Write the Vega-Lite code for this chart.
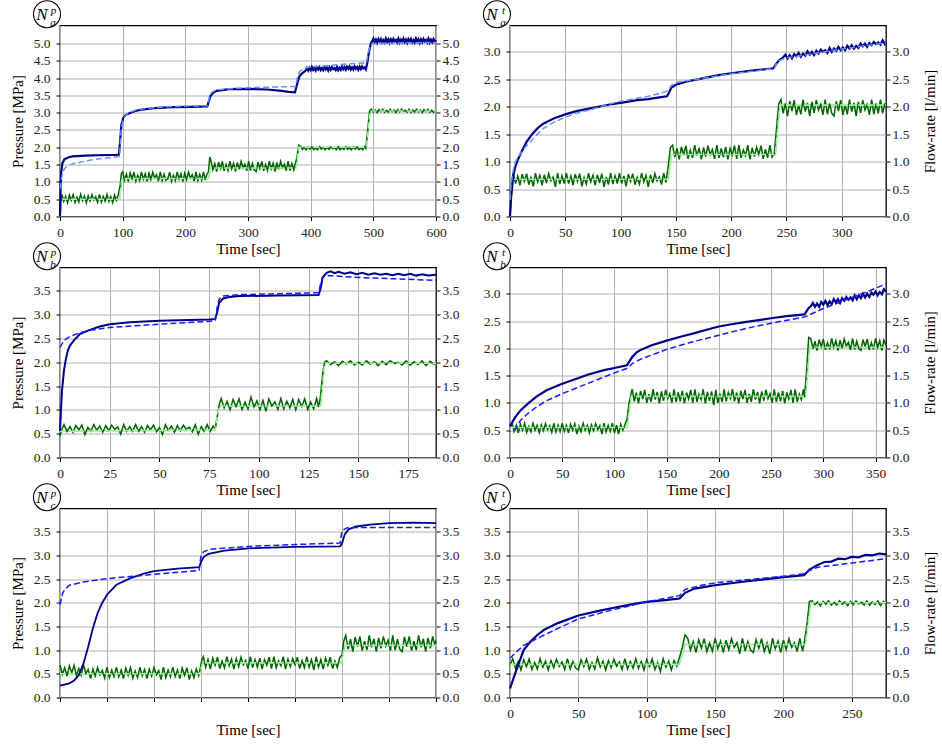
{
"$schema": "https://vega.github.io/schema/vega-lite/v6.json",
"padding": {"left": 9, "top": -2.5, "right": 0, "bottom": 0},
"bounds": "flush",
"columns": 2,
"spacing": {"row": 51, "column": 74},
"config": {
  "font": "Liberation Serif",
  "view": {"stroke": "#000", "strokeWidth": 1.3},
  "axis": {"labelFont": "Liberation Serif", "labelFontSize": 13.5, "labelColor": "#222", "titleFont": "Liberation Serif", "titleFontSize": 15, "titleFontWeight": "normal", "titleColor": "#000", "domain": false, "tickColor": "#000", "tickSize": 4, "gridColor": "#b0b0b0", "gridWidth": 1, "labelFlush": false, "labelOverlap": false, "labelPadding": 4},
  "line": {"strokeCap": "butt"},
  "text": {"font": "Liberation Serif"}
},
"concat": [
{
 "width": 376, "height": 191,
 "resolve": {"scale": {"y": "independent"}},
 "layer": [
  {"encoding": {
    "x": {"field": "t", "type": "quantitative", "scale": {"domain": [0, 600], "nice": false, "zero": false}, "axis": {"values": [0,100,200,300,400,500,600], "title": "Time [sec]", "grid": true, "titlePadding": 2, "labelPadding": 5}},
    "y": {"field": "v", "type": "quantitative", "scale": {"domain": [0, 5.52], "nice": false}, "axis": {"orient": "left", "values": [0,0.5,1,1.5,2,2.5,3,3.5,4,4.5,5], "format": ".1f", "title": "Pressure [MPa]", "grid": true, "labelPadding": 6, "titlePadding": 8}}},
   "layer": [
    {"data": {"name": "ap_fd"}, "mark": {"type": "line", "color": "#90ee90", "strokeWidth": 1.5}},
    {"data": {"name": "ap_fm"}, "mark": {"type": "line", "color": "#006400", "strokeWidth": 1.5}},
    {"data": {"name": "ap_fd"}, "mark": {"type": "line", "color": "#a8f0a8", "strokeWidth": 1.6, "strokeDash": [6, 3]}}
   ]},
  {"encoding": {
    "x": {"field": "t", "type": "quantitative", "scale": {"domain": [0, 600], "nice": false, "zero": false}},
    "y": {"field": "v", "type": "quantitative", "scale": {"domain": [0, 5.52], "nice": false}, "axis": {"orient": "right", "values": [0,0.5,1,1.5,2,2.5,3,3.5,4,4.5,5], "format": ".1f", "title": null, "grid": false, "labelPadding": 2}}},
   "layer": [
    {"data": {"name": "ap_pm"}, "mark": {"type": "line", "color": "#00008b", "strokeWidth": 2.2}},
    {"data": {"name": "ap_pd"}, "mark": {"type": "line", "color": "#6495ed", "strokeWidth": 1.5, "strokeDash": [6, 3]}}
   ]},
  {"encoding": {
    "x": {"datum": 0, "type": "quantitative", "scale": {"domain": [0, 600], "nice": false, "zero": false}},
    "y": {"datum": 5.52, "type": "quantitative", "scale": {"domain": [0, 5.52], "nice": false}, "axis": null}},
   "layer": [
    {"data": {"values": [{"s": "o"}]}, "mark": {"type": "point", "shape": "M-1.048,-0.447A0.534,0.534,0,1,1,0.02,-0.447A0.534,0.534,0,1,1,-1.048,-0.447Z", "size": 2560, "filled": false, "stroke": "#000", "strokeWidth": 1.1, "opacity": 1}},
    {"data": {"values": [{"s": "N"}]}, "mark": {"type": "text", "dx": -18, "dy": -11, "fontSize": 17, "fontStyle": "italic", "color": "#000"}, "encoding": {"text": {"field": "s"}}},
    {"data": {"values": [{"s": "p"}]}, "mark": {"type": "text", "dx": -6.5, "dy": -14.5, "fontSize": 11, "fontStyle": "italic", "color": "#000"}, "encoding": {"text": {"field": "s"}}},
    {"data": {"values": [{"s": "a"}]}, "mark": {"type": "text", "dx": -7, "dy": -3, "fontSize": 11, "fontStyle": "italic", "color": "#000"}, "encoding": {"text": {"field": "s"}}}
   ]}
 ]
},
{
 "width": 376, "height": 191,
 "resolve": {"scale": {"y": "independent"}},
 "layer": [
  {"encoding": {
    "x": {"field": "t", "type": "quantitative", "scale": {"domain": [0, 340], "nice": false, "zero": false}, "axis": {"values": [0,50,100,150,200,250,300], "title": "Time [sec]", "grid": true, "titlePadding": 2, "labelPadding": 5}},
    "y": {"field": "v", "type": "quantitative", "scale": {"domain": [0, 3.48], "nice": false}, "axis": {"orient": "left", "values": [0,0.5,1,1.5,2,2.5,3], "format": ".1f", "title": null, "grid": true, "labelPadding": 6}}},
   "layer": [
    {"data": {"name": "at_fd"}, "mark": {"type": "line", "color": "#90ee90", "strokeWidth": 1.5}},
    {"data": {"name": "at_fm"}, "mark": {"type": "line", "color": "#006400", "strokeWidth": 1.5}},
    {"data": {"name": "at_fd"}, "mark": {"type": "line", "color": "#a8f0a8", "strokeWidth": 1.6, "strokeDash": [6, 3]}}
   ]},
  {"encoding": {
    "x": {"field": "t", "type": "quantitative", "scale": {"domain": [0, 340], "nice": false, "zero": false}},
    "y": {"field": "v", "type": "quantitative", "scale": {"domain": [0, 3.48], "nice": false}, "axis": {"orient": "right", "values": [0,0.5,1,1.5,2,2.5,3], "format": ".1f", "title": "Flow-rate [l/min]", "titleAngle": 270, "titleBaseline": "top", "titlePadding": 14, "grid": false, "labelPadding": 2}}},
   "layer": [
    {"data": {"name": "at_pm"}, "mark": {"type": "line", "color": "#00008b", "strokeWidth": 2.2}},
    {"data": {"name": "at_pd"}, "mark": {"type": "line", "color": "#6495ed", "strokeWidth": 1.5, "strokeDash": [6, 3]}}
   ]},
  {"encoding": {
    "x": {"datum": 0, "type": "quantitative", "scale": {"domain": [0, 340], "nice": false, "zero": false}},
    "y": {"datum": 3.48, "type": "quantitative", "scale": {"domain": [0, 3.48], "nice": false}, "axis": null}},
   "layer": [
    {"data": {"values": [{"s": "o"}]}, "mark": {"type": "point", "shape": "M-1.048,-0.447A0.534,0.534,0,1,1,0.02,-0.447A0.534,0.534,0,1,1,-1.048,-0.447Z", "size": 2560, "filled": false, "stroke": "#000", "strokeWidth": 1.1, "opacity": 1}},
    {"data": {"values": [{"s": "N"}]}, "mark": {"type": "text", "dx": -18, "dy": -11, "fontSize": 17, "fontStyle": "italic", "color": "#000"}, "encoding": {"text": {"field": "s"}}},
    {"data": {"values": [{"s": "t"}]}, "mark": {"type": "text", "dx": -6.5, "dy": -15, "fontSize": 11, "fontStyle": "italic", "color": "#000"}, "encoding": {"text": {"field": "s"}}},
    {"data": {"values": [{"s": "a"}]}, "mark": {"type": "text", "dx": -7, "dy": -3, "fontSize": 11, "fontStyle": "italic", "color": "#000"}, "encoding": {"text": {"field": "s"}}}
   ]}
 ]
},
{
 "width": 376, "height": 190,
 "resolve": {"scale": {"y": "independent"}},
 "layer": [
  {"encoding": {
    "x": {"field": "t", "type": "quantitative", "scale": {"domain": [0, 189], "nice": false, "zero": false}, "axis": {"values": [0,25,50,75,100,125,150,175], "title": "Time [sec]", "grid": true, "titlePadding": 2, "labelPadding": 5}},
    "y": {"field": "v", "type": "quantitative", "scale": {"domain": [0, 3.99], "nice": false}, "axis": {"orient": "left", "values": [0,0.5,1,1.5,2,2.5,3,3.5], "format": ".1f", "title": "Pressure [MPa]", "grid": true, "labelPadding": 6, "titlePadding": 8}}},
   "layer": [
    {"data": {"name": "bp_fd"}, "mark": {"type": "line", "color": "#90ee90", "strokeWidth": 1.5}},
    {"data": {"name": "bp_fm"}, "mark": {"type": "line", "color": "#006400", "strokeWidth": 1.5}},
    {"data": {"name": "bp_fd"}, "mark": {"type": "line", "color": "#a8f0a8", "strokeWidth": 1.6, "strokeDash": [6, 3]}}
   ]},
  {"encoding": {
    "x": {"field": "t", "type": "quantitative", "scale": {"domain": [0, 189], "nice": false, "zero": false}},
    "y": {"field": "v", "type": "quantitative", "scale": {"domain": [0, 3.99], "nice": false}, "axis": {"orient": "right", "values": [0,0.5,1,1.5,2,2.5,3,3.5], "format": ".1f", "title": null, "grid": false, "labelPadding": 2}}},
   "layer": [
    {"data": {"name": "bp_pm"}, "mark": {"type": "line", "color": "#00008b", "strokeWidth": 2}},
    {"data": {"name": "bp_pd"}, "mark": {"type": "line", "color": "#1a1aff", "strokeWidth": 1.5, "strokeDash": [6, 3]}}
   ]},
  {"encoding": {
    "x": {"datum": 0, "type": "quantitative", "scale": {"domain": [0, 189], "nice": false, "zero": false}},
    "y": {"datum": 3.99, "type": "quantitative", "scale": {"domain": [0, 3.99], "nice": false}, "axis": null}},
   "layer": [
    {"data": {"values": [{"s": "o"}]}, "mark": {"type": "point", "shape": "M-1.048,-0.447A0.534,0.534,0,1,1,0.02,-0.447A0.534,0.534,0,1,1,-1.048,-0.447Z", "size": 2560, "filled": false, "stroke": "#000", "strokeWidth": 1.1, "opacity": 1}},
    {"data": {"values": [{"s": "N"}]}, "mark": {"type": "text", "dx": -18, "dy": -11, "fontSize": 17, "fontStyle": "italic", "color": "#000"}, "encoding": {"text": {"field": "s"}}},
    {"data": {"values": [{"s": "p"}]}, "mark": {"type": "text", "dx": -6.5, "dy": -14.5, "fontSize": 11, "fontStyle": "italic", "color": "#000"}, "encoding": {"text": {"field": "s"}}},
    {"data": {"values": [{"s": "b"}]}, "mark": {"type": "text", "dx": -7, "dy": -3, "fontSize": 11, "fontStyle": "italic", "color": "#000"}, "encoding": {"text": {"field": "s"}}}
   ]}
 ]
},
{
 "width": 376, "height": 190,
 "resolve": {"scale": {"y": "independent"}},
 "layer": [
  {"encoding": {
    "x": {"field": "t", "type": "quantitative", "scale": {"domain": [0, 360], "nice": false, "zero": false}, "axis": {"values": [0,50,100,150,200,250,300,350], "title": "Time [sec]", "grid": true, "titlePadding": 2, "labelPadding": 5}},
    "y": {"field": "v", "type": "quantitative", "scale": {"domain": [0, 3.48], "nice": false}, "axis": {"orient": "left", "values": [0,0.5,1,1.5,2,2.5,3], "format": ".1f", "title": null, "grid": true, "labelPadding": 6}}},
   "layer": [
    {"data": {"name": "bt_fd"}, "mark": {"type": "line", "color": "#90ee90", "strokeWidth": 1.5}},
    {"data": {"name": "bt_fm"}, "mark": {"type": "line", "color": "#006400", "strokeWidth": 1.5}},
    {"data": {"name": "bt_fd"}, "mark": {"type": "line", "color": "#a8f0a8", "strokeWidth": 1.6, "strokeDash": [6, 3]}}
   ]},
  {"encoding": {
    "x": {"field": "t", "type": "quantitative", "scale": {"domain": [0, 360], "nice": false, "zero": false}},
    "y": {"field": "v", "type": "quantitative", "scale": {"domain": [0, 3.48], "nice": false}, "axis": {"orient": "right", "values": [0,0.5,1,1.5,2,2.5,3], "format": ".1f", "title": "Flow-rate [l/min]", "titleAngle": 270, "titleBaseline": "top", "titlePadding": 14, "grid": false, "labelPadding": 2}}},
   "layer": [
    {"data": {"name": "bt_pm"}, "mark": {"type": "line", "color": "#00008b", "strokeWidth": 2.2}},
    {"data": {"name": "bt_pd"}, "mark": {"type": "line", "color": "#1a1aff", "strokeWidth": 1.5, "strokeDash": [6, 3]}}
   ]},
  {"encoding": {
    "x": {"datum": 0, "type": "quantitative", "scale": {"domain": [0, 360], "nice": false, "zero": false}},
    "y": {"datum": 3.48, "type": "quantitative", "scale": {"domain": [0, 3.48], "nice": false}, "axis": null}},
   "layer": [
    {"data": {"values": [{"s": "o"}]}, "mark": {"type": "point", "shape": "M-1.048,-0.447A0.534,0.534,0,1,1,0.02,-0.447A0.534,0.534,0,1,1,-1.048,-0.447Z", "size": 2560, "filled": false, "stroke": "#000", "strokeWidth": 1.1, "opacity": 1}},
    {"data": {"values": [{"s": "N"}]}, "mark": {"type": "text", "dx": -18, "dy": -11, "fontSize": 17, "fontStyle": "italic", "color": "#000"}, "encoding": {"text": {"field": "s"}}},
    {"data": {"values": [{"s": "t"}]}, "mark": {"type": "text", "dx": -6.5, "dy": -15, "fontSize": 11, "fontStyle": "italic", "color": "#000"}, "encoding": {"text": {"field": "s"}}},
    {"data": {"values": [{"s": "b"}]}, "mark": {"type": "text", "dx": -7, "dy": -3, "fontSize": 11, "fontStyle": "italic", "color": "#000"}, "encoding": {"text": {"field": "s"}}}
   ]}
 ]
},
{
 "width": 376, "height": 189,
 "resolve": {"scale": {"y": "independent"}},
 "layer": [
  {"encoding": {
    "x": {"field": "t", "type": "quantitative", "scale": {"domain": [0, 400], "nice": false, "zero": false}, "axis": {"values": [0,50,100,150,200,250,300,350,400], "labels": false, "title": "Time [sec]", "grid": true, "titlePadding": 20}},
    "y": {"field": "v", "type": "quantitative", "scale": {"domain": [0, 3.99], "nice": false}, "axis": {"orient": "left", "values": [0,0.5,1,1.5,2,2.5,3,3.5], "format": ".1f", "title": "Pressure [MPa]", "grid": true, "labelPadding": 6, "titlePadding": 8}}},
   "layer": [
    {"data": {"name": "cp_fd"}, "mark": {"type": "line", "color": "#90ee90", "strokeWidth": 1.5}},
    {"data": {"name": "cp_fm"}, "mark": {"type": "line", "color": "#006400", "strokeWidth": 1.5}},
    {"data": {"name": "cp_fd"}, "mark": {"type": "line", "color": "#a8f0a8", "strokeWidth": 1.6, "strokeDash": [6, 3]}}
   ]},
  {"encoding": {
    "x": {"field": "t", "type": "quantitative", "scale": {"domain": [0, 400], "nice": false, "zero": false}},
    "y": {"field": "v", "type": "quantitative", "scale": {"domain": [0, 3.99], "nice": false}, "axis": {"orient": "right", "values": [0,0.5,1,1.5,2,2.5,3,3.5], "format": ".1f", "title": null, "grid": false, "labelPadding": 2}}},
   "layer": [
    {"data": {"name": "cp_pm"}, "mark": {"type": "line", "color": "#00008b", "strokeWidth": 1.8}},
    {"data": {"name": "cp_pd"}, "mark": {"type": "line", "color": "#1a1aff", "strokeWidth": 1.5, "strokeDash": [6, 3]}}
   ]},
  {"encoding": {
    "x": {"datum": 0, "type": "quantitative", "scale": {"domain": [0, 400], "nice": false, "zero": false}},
    "y": {"datum": 3.99, "type": "quantitative", "scale": {"domain": [0, 3.99], "nice": false}, "axis": null}},
   "layer": [
    {"data": {"values": [{"s": "o"}]}, "mark": {"type": "point", "shape": "M-1.048,-0.447A0.534,0.534,0,1,1,0.02,-0.447A0.534,0.534,0,1,1,-1.048,-0.447Z", "size": 2560, "filled": false, "stroke": "#000", "strokeWidth": 1.1, "opacity": 1}},
    {"data": {"values": [{"s": "N"}]}, "mark": {"type": "text", "dx": -18, "dy": -11, "fontSize": 17, "fontStyle": "italic", "color": "#000"}, "encoding": {"text": {"field": "s"}}},
    {"data": {"values": [{"s": "p"}]}, "mark": {"type": "text", "dx": -6.5, "dy": -14.5, "fontSize": 11, "fontStyle": "italic", "color": "#000"}, "encoding": {"text": {"field": "s"}}},
    {"data": {"values": [{"s": "c"}]}, "mark": {"type": "text", "dx": -7, "dy": -3, "fontSize": 11, "fontStyle": "italic", "color": "#000"}, "encoding": {"text": {"field": "s"}}}
   ]}
 ]
},
{
 "width": 376, "height": 189,
 "resolve": {"scale": {"y": "independent"}},
 "layer": [
  {"encoding": {
    "x": {"field": "t", "type": "quantitative", "scale": {"domain": [0, 275], "nice": false, "zero": false}, "axis": {"values": [0,50,100,150,200,250], "title": "Time [sec]", "grid": true, "titlePadding": 2, "labelPadding": 5}},
    "y": {"field": "v", "type": "quantitative", "scale": {"domain": [0, 3.99], "nice": false}, "axis": {"orient": "left", "values": [0,0.5,1,1.5,2,2.5,3,3.5], "format": ".1f", "title": null, "grid": true, "labelPadding": 6}}},
   "layer": [
    {"data": {"name": "ct_fd"}, "mark": {"type": "line", "color": "#90ee90", "strokeWidth": 1.5}},
    {"data": {"name": "ct_fm"}, "mark": {"type": "line", "color": "#006400", "strokeWidth": 1.5}},
    {"data": {"name": "ct_fd"}, "mark": {"type": "line", "color": "#a8f0a8", "strokeWidth": 1.6, "strokeDash": [6, 3]}}
   ]},
  {"encoding": {
    "x": {"field": "t", "type": "quantitative", "scale": {"domain": [0, 275], "nice": false, "zero": false}},
    "y": {"field": "v", "type": "quantitative", "scale": {"domain": [0, 3.99], "nice": false}, "axis": {"orient": "right", "values": [0,0.5,1,1.5,2,2.5,3,3.5], "format": ".1f", "title": "Flow-rate [l/min]", "titleAngle": 270, "titleBaseline": "top", "titlePadding": 14, "grid": false, "labelPadding": 2}}},
   "layer": [
    {"data": {"name": "ct_pm"}, "mark": {"type": "line", "color": "#00008b", "strokeWidth": 2.2}},
    {"data": {"name": "ct_pd"}, "mark": {"type": "line", "color": "#1a1aff", "strokeWidth": 1.5, "strokeDash": [6, 3]}}
   ]},
  {"encoding": {
    "x": {"datum": 0, "type": "quantitative", "scale": {"domain": [0, 275], "nice": false, "zero": false}},
    "y": {"datum": 3.99, "type": "quantitative", "scale": {"domain": [0, 3.99], "nice": false}, "axis": null}},
   "layer": [
    {"data": {"values": [{"s": "o"}]}, "mark": {"type": "point", "shape": "M-1.048,-0.447A0.534,0.534,0,1,1,0.02,-0.447A0.534,0.534,0,1,1,-1.048,-0.447Z", "size": 2560, "filled": false, "stroke": "#000", "strokeWidth": 1.1, "opacity": 1}},
    {"data": {"values": [{"s": "N"}]}, "mark": {"type": "text", "dx": -18, "dy": -11, "fontSize": 17, "fontStyle": "italic", "color": "#000"}, "encoding": {"text": {"field": "s"}}},
    {"data": {"values": [{"s": "t"}]}, "mark": {"type": "text", "dx": -6.5, "dy": -15, "fontSize": 11, "fontStyle": "italic", "color": "#000"}, "encoding": {"text": {"field": "s"}}},
    {"data": {"values": [{"s": "c"}]}, "mark": {"type": "text", "dx": -7, "dy": -3, "fontSize": 11, "fontStyle": "italic", "color": "#000"}, "encoding": {"text": {"field": "s"}}}
   ]}
 ]
}
],
"datasets": {
"ap_fd": [{"t":0,"v":0},{"t":2,"v":0.5},{"t":95,"v":0.5},{"t":99,"v":1.1},{"t":237,"v":1.1},{"t":240,"v":1.4},{"t":377,"v":1.4},{"t":381,"v":2.0},{"t":489,"v":2.0},{"t":495,"v":3.05},{"t":600,"v":3.05}],
"ap_fm": [{"t":0,"v":0.02},{"t":2,"v":0.5},{"t":3,"v":0.64},{"t":6,"v":0.44},{"t":9,"v":0.58},{"t":12,"v":0.4},{"t":15,"v":0.62},{"t":18,"v":0.47},{"t":21,"v":0.63},{"t":24,"v":0.41},{"t":27,"v":0.56},{"t":30,"v":0.42},{"t":33,"v":0.64},{"t":36,"v":0.46},{"t":39,"v":0.59},{"t":42,"v":0.4},{"t":45,"v":0.6},{"t":48,"v":0.45},{"t":51,"v":0.63},{"t":54,"v":0.48},{"t":57,"v":0.57},{"t":60,"v":0.41},{"t":63,"v":0.64},{"t":66,"v":0.42},{"t":69,"v":0.58},{"t":72,"v":0.44},{"t":75,"v":0.64},{"t":78,"v":0.44},{"t":81,"v":0.58},{"t":84,"v":0.4},{"t":87,"v":0.62},{"t":90,"v":0.47},{"t":93,"v":0.63},{"t":96,"v":0.9},{"t":98,"v":1.25},{"t":100,"v":1.29},{"t":103,"v":1.05},{"t":106,"v":1.22},{"t":109,"v":1.01},{"t":112,"v":1.26},{"t":115,"v":1.09},{"t":118,"v":1.28},{"t":121,"v":1.02},{"t":124,"v":1.19},{"t":127,"v":1.04},{"t":130,"v":1.29},{"t":133,"v":1.08},{"t":136,"v":1.23},{"t":139,"v":1.01},{"t":142,"v":1.25},{"t":145,"v":1.07},{"t":148,"v":1.28},{"t":151,"v":1.11},{"t":154,"v":1.21},{"t":157,"v":1.02},{"t":160,"v":1.29},{"t":163,"v":1.04},{"t":166,"v":1.22},{"t":169,"v":1.05},{"t":172,"v":1.09},{"t":175,"v":1.28},{"t":178,"v":1.02},{"t":181,"v":1.19},{"t":184,"v":1.04},{"t":187,"v":1.29},{"t":190,"v":1.08},{"t":193,"v":1.23},{"t":196,"v":1.01},{"t":199,"v":1.25},{"t":202,"v":1.07},{"t":205,"v":1.28},{"t":208,"v":1.11},{"t":211,"v":1.21},{"t":214,"v":1.02},{"t":217,"v":1.29},{"t":220,"v":1.04},{"t":223,"v":1.22},{"t":226,"v":1.05},{"t":229,"v":1.29},{"t":232,"v":1.05},{"t":234,"v":1.2},{"t":237,"v":1.3},{"t":239,"v":1.72},{"t":241,"v":1.6},{"t":244,"v":1.35},{"t":247,"v":1.53},{"t":250,"v":1.3},{"t":253,"v":1.57},{"t":256,"v":1.39},{"t":259,"v":1.59},{"t":262,"v":1.32},{"t":265,"v":1.5},{"t":268,"v":1.33},{"t":271,"v":1.6},{"t":274,"v":1.38},{"t":277,"v":1.54},{"t":280,"v":1.3},{"t":283,"v":1.56},{"t":286,"v":1.36},{"t":289,"v":1.59},{"t":292,"v":1.41},{"t":295,"v":1.51},{"t":298,"v":1.32},{"t":301,"v":1.6},{"t":304,"v":1.33},{"t":307,"v":1.53},{"t":310,"v":1.35},{"t":313,"v":1.3},{"t":316,"v":1.57},{"t":319,"v":1.39},{"t":322,"v":1.59},{"t":325,"v":1.32},{"t":328,"v":1.5},{"t":331,"v":1.33},{"t":334,"v":1.6},{"t":337,"v":1.38},{"t":340,"v":1.54},{"t":343,"v":1.3},{"t":346,"v":1.56},{"t":349,"v":1.36},{"t":352,"v":1.59},{"t":355,"v":1.41},{"t":358,"v":1.51},{"t":361,"v":1.32},{"t":364,"v":1.6},{"t":367,"v":1.33},{"t":370,"v":1.53},{"t":373,"v":1.35},{"t":375,"v":1.5},{"t":378,"v":1.7},{"t":381,"v":2.06},{"t":384,"v":2.02},{"t":387,"v":1.94},{"t":390,"v":1.99},{"t":393,"v":1.93},{"t":396,"v":2.01},{"t":399,"v":1.95},{"t":402,"v":2.01},{"t":405,"v":1.93},{"t":408,"v":1.98},{"t":411,"v":1.93},{"t":414,"v":2.02},{"t":417,"v":1.95},{"t":420,"v":2.0},{"t":423,"v":1.93},{"t":426,"v":2.0},{"t":429,"v":1.94},{"t":432,"v":2.01},{"t":435,"v":1.96},{"t":438,"v":1.99},{"t":441,"v":1.93},{"t":444,"v":2.02},{"t":447,"v":1.93},{"t":450,"v":1.99},{"t":453,"v":1.94},{"t":456,"v":2.02},{"t":459,"v":1.94},{"t":462,"v":1.99},{"t":465,"v":1.93},{"t":468,"v":2.01},{"t":471,"v":1.95},{"t":474,"v":2.01},{"t":477,"v":1.93},{"t":480,"v":1.98},{"t":483,"v":1.93},{"t":486,"v":2.02},{"t":488,"v":1.97},{"t":491,"v":2.5},{"t":494,"v":3.05},{"t":497,"v":3.1},{"t":500,"v":3.02},{"t":503,"v":3.08},{"t":506,"v":3.0},{"t":509,"v":3.09},{"t":512,"v":3.03},{"t":515,"v":3.1},{"t":518,"v":3.01},{"t":521,"v":3.07},{"t":524,"v":3.01},{"t":527,"v":3.1},{"t":530,"v":3.03},{"t":533,"v":3.08},{"t":536,"v":3.0},{"t":539,"v":3.09},{"t":542,"v":3.02},{"t":545,"v":3.1},{"t":548,"v":3.04},{"t":551,"v":3.07},{"t":554,"v":3.01},{"t":557,"v":3.1},{"t":560,"v":3.01},{"t":563,"v":3.08},{"t":566,"v":3.02},{"t":569,"v":3.1},{"t":572,"v":3.02},{"t":575,"v":3.08},{"t":578,"v":3.0},{"t":581,"v":3.09},{"t":584,"v":3.03},{"t":587,"v":3.1},{"t":590,"v":3.01},{"t":593,"v":3.07},{"t":596,"v":3.01},{"t":600,"v":3.06}],
"ap_pm": [{"t":0,"v":0},{"t":1,"v":0.9},{"t":2,"v":1.3},{"t":4,"v":1.55},{"t":7,"v":1.65},{"t":12,"v":1.7},{"t":20,"v":1.74},{"t":40,"v":1.76},{"t":60,"v":1.77},{"t":90,"v":1.78},{"t":94,"v":1.79},{"t":96,"v":2.2},{"t":98,"v":2.65},{"t":101,"v":2.85},{"t":105,"v":2.93},{"t":110,"v":2.98},{"t":120,"v":3.05},{"t":130,"v":3.09},{"t":150,"v":3.13},{"t":180,"v":3.16},{"t":210,"v":3.17},{"t":235,"v":3.18},{"t":237,"v":3.3},{"t":240,"v":3.48},{"t":245,"v":3.58},{"t":250,"v":3.63},{"t":270,"v":3.68},{"t":300,"v":3.69},{"t":330,"v":3.67},{"t":350,"v":3.64},{"t":365,"v":3.6},{"t":375,"v":3.59},{"t":378,"v":3.8},{"t":382,"v":4.05},{"t":386,"v":4.13},{"t":392,"v":4.22},{"t":394,"v":4.29},{"t":396,"v":4.22},{"t":398,"v":4.3},{"t":400,"v":4.23},{"t":402,"v":4.32},{"t":404,"v":4.24},{"t":406,"v":4.3},{"t":408,"v":4.22},{"t":410,"v":4.31},{"t":412,"v":4.25},{"t":414,"v":4.32},{"t":416,"v":4.23},{"t":418,"v":4.29},{"t":420,"v":4.23},{"t":422,"v":4.32},{"t":424,"v":4.25},{"t":426,"v":4.3},{"t":428,"v":4.22},{"t":430,"v":4.31},{"t":432,"v":4.24},{"t":434,"v":4.32},{"t":436,"v":4.26},{"t":438,"v":4.29},{"t":440,"v":4.23},{"t":442,"v":4.32},{"t":444,"v":4.23},{"t":446,"v":4.3},{"t":448,"v":4.24},{"t":450,"v":4.34},{"t":452,"v":4.26},{"t":454,"v":4.32},{"t":456,"v":4.24},{"t":458,"v":4.33},{"t":460,"v":4.27},{"t":462,"v":4.34},{"t":464,"v":4.25},{"t":466,"v":4.31},{"t":468,"v":4.25},{"t":470,"v":4.34},{"t":472,"v":4.27},{"t":474,"v":4.32},{"t":476,"v":4.24},{"t":478,"v":4.33},{"t":480,"v":4.26},{"t":482,"v":4.34},{"t":484,"v":4.28},{"t":486,"v":4.31},{"t":488,"v":4.25},{"t":490,"v":4.4},{"t":493,"v":4.75},{"t":496,"v":5.0},{"t":498,"v":5.06},{"t":500,"v":5.14},{"t":502,"v":5.04},{"t":504,"v":5.11},{"t":506,"v":5.02},{"t":508,"v":5.13},{"t":510,"v":5.06},{"t":512,"v":5.13},{"t":514,"v":5.03},{"t":516,"v":5.1},{"t":518,"v":5.03},{"t":520,"v":5.14},{"t":522,"v":5.05},{"t":524,"v":5.12},{"t":526,"v":5.02},{"t":528,"v":5.12},{"t":530,"v":5.04},{"t":532,"v":5.13},{"t":534,"v":5.06},{"t":536,"v":5.1},{"t":538,"v":5.03},{"t":540,"v":5.14},{"t":542,"v":5.03},{"t":544,"v":5.11},{"t":546,"v":5.04},{"t":548,"v":5.14},{"t":550,"v":5.04},{"t":552,"v":5.11},{"t":554,"v":5.02},{"t":556,"v":5.13},{"t":558,"v":5.06},{"t":560,"v":5.13},{"t":562,"v":5.03},{"t":564,"v":5.1},{"t":566,"v":5.03},{"t":568,"v":5.14},{"t":570,"v":5.05},{"t":572,"v":5.12},{"t":574,"v":5.02},{"t":576,"v":5.12},{"t":578,"v":5.04},{"t":580,"v":5.13},{"t":582,"v":5.06},{"t":584,"v":5.1},{"t":586,"v":5.03},{"t":588,"v":5.14},{"t":590,"v":5.03},{"t":592,"v":5.11},{"t":594,"v":5.04},{"t":596,"v":5.13},{"t":598,"v":5.05},{"t":600,"v":5.1}],
"ap_pd": [{"t":1,"v":0.8},{"t":2,"v":1.05},{"t":4,"v":1.25},{"t":7,"v":1.38},{"t":12,"v":1.46},{"t":20,"v":1.52},{"t":40,"v":1.6},{"t":60,"v":1.66},{"t":80,"v":1.7},{"t":95,"v":1.73},{"t":97,"v":2.4},{"t":100,"v":2.75},{"t":104,"v":2.9},{"t":110,"v":3.0},{"t":120,"v":3.07},{"t":140,"v":3.13},{"t":170,"v":3.17},{"t":200,"v":3.19},{"t":236,"v":3.2},{"t":239,"v":3.5},{"t":243,"v":3.6},{"t":250,"v":3.66},{"t":275,"v":3.7},{"t":300,"v":3.72},{"t":340,"v":3.74},{"t":376,"v":3.76},{"t":379,"v":4.05},{"t":383,"v":4.2},{"t":390,"v":4.28},{"t":400,"v":4.32},{"t":430,"v":4.37},{"t":460,"v":4.41},{"t":489,"v":4.44},{"t":492,"v":4.75},{"t":496,"v":4.97},{"t":500,"v":5.0},{"t":550,"v":5.02},{"t":600,"v":5.03}],
"at_fd": [{"t":0,"v":0},{"t":2,"v":0.68},{"t":143,"v":0.68},{"t":146,"v":1.13},{"t":240,"v":1.13},{"t":244,"v":2.03},{"t":340,"v":2.03}],
"at_fm": [{"t":0,"v":0},{"t":1,"v":0.35},{"t":2,"v":0.65},{"t":3,"v":0.79},{"t":5,"v":0.6},{"t":7,"v":0.74},{"t":9,"v":0.57},{"t":11,"v":0.77},{"t":13,"v":0.64},{"t":15,"v":0.78},{"t":17,"v":0.58},{"t":19,"v":0.71},{"t":21,"v":0.55},{"t":23,"v":0.79},{"t":25,"v":0.63},{"t":27,"v":0.75},{"t":29,"v":0.57},{"t":31,"v":0.76},{"t":33,"v":0.61},{"t":35,"v":0.78},{"t":37,"v":0.65},{"t":39,"v":0.72},{"t":41,"v":0.54},{"t":43,"v":0.79},{"t":45,"v":0.59},{"t":47,"v":0.74},{"t":49,"v":0.6},{"t":51,"v":0.79},{"t":53,"v":0.6},{"t":55,"v":0.74},{"t":57,"v":0.57},{"t":59,"v":0.77},{"t":61,"v":0.64},{"t":63,"v":0.78},{"t":65,"v":0.55},{"t":67,"v":0.71},{"t":69,"v":0.59},{"t":71,"v":0.79},{"t":73,"v":0.63},{"t":75,"v":0.75},{"t":77,"v":0.57},{"t":79,"v":0.76},{"t":81,"v":0.61},{"t":83,"v":0.78},{"t":85,"v":0.54},{"t":87,"v":0.72},{"t":89,"v":0.58},{"t":91,"v":0.79},{"t":93,"v":0.59},{"t":95,"v":0.74},{"t":97,"v":0.6},{"t":99,"v":0.79},{"t":101,"v":0.6},{"t":103,"v":0.74},{"t":105,"v":0.55},{"t":107,"v":0.77},{"t":109,"v":0.64},{"t":111,"v":0.78},{"t":113,"v":0.58},{"t":115,"v":0.71},{"t":117,"v":0.59},{"t":119,"v":0.79},{"t":121,"v":0.63},{"t":123,"v":0.75},{"t":125,"v":0.54},{"t":127,"v":0.76},{"t":129,"v":0.61},{"t":131,"v":0.78},{"t":133,"v":0.65},{"t":135,"v":0.72},{"t":137,"v":0.58},{"t":139,"v":0.79},{"t":141,"v":0.62},{"t":143,"v":0.9},{"t":145,"v":1.25},{"t":147,"v":1.3},{"t":149,"v":1.08},{"t":151,"v":1.24},{"t":153,"v":1.04},{"t":155,"v":1.27},{"t":157,"v":1.12},{"t":159,"v":1.29},{"t":161,"v":1.05},{"t":163,"v":1.21},{"t":165,"v":1.07},{"t":167,"v":1.3},{"t":169,"v":1.11},{"t":171,"v":1.25},{"t":173,"v":1.04},{"t":175,"v":1.26},{"t":177,"v":1.09},{"t":179,"v":1.29},{"t":181,"v":1.13},{"t":183,"v":1.22},{"t":185,"v":1.05},{"t":187,"v":1.3},{"t":189,"v":1.07},{"t":191,"v":1.24},{"t":193,"v":1.08},{"t":195,"v":1.27},{"t":197,"v":1.04},{"t":199,"v":1.24},{"t":201,"v":1.12},{"t":203,"v":1.29},{"t":205,"v":1.05},{"t":207,"v":1.3},{"t":209,"v":1.07},{"t":211,"v":1.21},{"t":213,"v":1.11},{"t":215,"v":1.3},{"t":217,"v":1.04},{"t":219,"v":1.25},{"t":221,"v":1.09},{"t":223,"v":1.26},{"t":225,"v":1.13},{"t":227,"v":1.29},{"t":229,"v":1.05},{"t":231,"v":1.22},{"t":233,"v":1.07},{"t":235,"v":1.3},{"t":237,"v":1.08},{"t":239,"v":1.15},{"t":241,"v":1.6},{"t":243,"v":2.05},{"t":245,"v":2.13},{"t":247,"v":1.88},{"t":249,"v":2.06},{"t":251,"v":1.83},{"t":253,"v":2.1},{"t":255,"v":1.92},{"t":257,"v":2.12},{"t":259,"v":1.85},{"t":261,"v":2.03},{"t":263,"v":1.86},{"t":265,"v":2.13},{"t":267,"v":1.91},{"t":269,"v":2.07},{"t":271,"v":1.83},{"t":273,"v":2.09},{"t":275,"v":1.89},{"t":277,"v":2.12},{"t":279,"v":1.94},{"t":281,"v":2.04},{"t":283,"v":1.85},{"t":285,"v":2.13},{"t":287,"v":1.86},{"t":289,"v":2.06},{"t":291,"v":1.88},{"t":293,"v":1.83},{"t":295,"v":2.1},{"t":297,"v":1.92},{"t":299,"v":2.12},{"t":301,"v":1.85},{"t":303,"v":2.03},{"t":305,"v":1.86},{"t":307,"v":2.13},{"t":309,"v":1.91},{"t":311,"v":2.07},{"t":313,"v":1.83},{"t":315,"v":2.09},{"t":317,"v":1.89},{"t":319,"v":2.12},{"t":321,"v":1.94},{"t":323,"v":2.04},{"t":325,"v":1.85},{"t":327,"v":2.13},{"t":329,"v":1.86},{"t":331,"v":2.06},{"t":333,"v":1.88},{"t":335,"v":2.13},{"t":337,"v":1.88},{"t":339,"v":2.06},{"t":340,"v":1.98}],
"at_pm": [{"t":0,"v":0},{"t":1,"v":0.35},{"t":2,"v":0.55},{"t":3,"v":0.75},{"t":5,"v":0.92},{"t":7,"v":1.03},{"t":10,"v":1.16},{"t":15,"v":1.36},{"t":20,"v":1.5},{"t":25,"v":1.61},{"t":30,"v":1.69},{"t":40,"v":1.79},{"t":50,"v":1.86},{"t":60,"v":1.92},{"t":75,"v":1.98},{"t":90,"v":2.04},{"t":100,"v":2.07},{"t":115,"v":2.12},{"t":125,"v":2.14},{"t":135,"v":2.17},{"t":142,"v":2.19},{"t":144,"v":2.27},{"t":146,"v":2.35},{"t":150,"v":2.4},{"t":160,"v":2.46},{"t":175,"v":2.52},{"t":190,"v":2.58},{"t":200,"v":2.61},{"t":215,"v":2.65},{"t":225,"v":2.67},{"t":238,"v":2.7},{"t":240,"v":2.76},{"t":243,"v":2.84},{"t":247,"v":2.9},{"t":249,"v":2.95},{"t":251,"v":2.88},{"t":253,"v":2.94},{"t":255,"v":2.88},{"t":257,"v":2.96},{"t":259,"v":2.92},{"t":261,"v":2.98},{"t":263,"v":2.91},{"t":265,"v":2.97},{"t":267,"v":2.93},{"t":269,"v":3.01},{"t":271,"v":2.95},{"t":273,"v":3.0},{"t":275,"v":2.94},{"t":277,"v":3.02},{"t":279,"v":2.97},{"t":281,"v":3.04},{"t":283,"v":3.0},{"t":285,"v":3.03},{"t":287,"v":2.98},{"t":289,"v":3.07},{"t":291,"v":3.0},{"t":293,"v":3.06},{"t":295,"v":3.02},{"t":297,"v":3.09},{"t":299,"v":3.03},{"t":301,"v":3.08},{"t":303,"v":3.03},{"t":305,"v":3.11},{"t":307,"v":3.06},{"t":309,"v":3.12},{"t":311,"v":3.06},{"t":313,"v":3.11},{"t":315,"v":3.07},{"t":317,"v":3.15},{"t":319,"v":3.1},{"t":321,"v":3.15},{"t":323,"v":3.09},{"t":325,"v":3.16},{"t":327,"v":3.12},{"t":329,"v":3.18},{"t":331,"v":3.14},{"t":333,"v":3.17},{"t":335,"v":3.13},{"t":337,"v":3.21},{"t":339,"v":3.14},{"t":340,"v":3.18}],
"at_pd": [{"t":0,"v":0.3},{"t":1,"v":0.6},{"t":3,"v":0.85},{"t":5,"v":1},{"t":8,"v":1.1},{"t":12,"v":1.22},{"t":20,"v":1.4},{"t":30,"v":1.6},{"t":40,"v":1.72},{"t":50,"v":1.81},{"t":60,"v":1.88},{"t":75,"v":1.96},{"t":90,"v":2.05},{"t":100,"v":2.1},{"t":125,"v":2.19},{"t":140,"v":2.27},{"t":143,"v":2.3},{"t":146,"v":2.39},{"t":150,"v":2.44},{"t":175,"v":2.52},{"t":200,"v":2.6},{"t":225,"v":2.66},{"t":239,"v":2.7},{"t":242,"v":2.83},{"t":250,"v":2.89},{"t":275,"v":2.97},{"t":300,"v":3.05},{"t":320,"v":3.11},{"t":340,"v":3.16}],
"bp_fd": [{"t":0,"v":0.55},{"t":78,"v":0.58},{"t":80,"v":1.08},{"t":131,"v":1.08},{"t":133,"v":1.98},{"t":189,"v":1.98}],
"bp_fm": [{"t":0,"v":0.45},{"t":1,"v":0.6},{"t":2,"v":0.69},{"t":3.5,"v":0.55},{"t":5,"v":0.65},{"t":6.5,"v":0.53},{"t":8,"v":0.67},{"t":9.5,"v":0.58},{"t":11,"v":0.68},{"t":12.5,"v":0.48},{"t":14,"v":0.63},{"t":15.5,"v":0.55},{"t":17,"v":0.69},{"t":18.5,"v":0.57},{"t":20,"v":0.66},{"t":21.5,"v":0.53},{"t":23,"v":0.67},{"t":24.5,"v":0.56},{"t":26,"v":0.68},{"t":27.5,"v":0.59},{"t":29,"v":0.64},{"t":30.5,"v":0.49},{"t":32,"v":0.69},{"t":33.5,"v":0.55},{"t":35,"v":0.65},{"t":36.5,"v":0.55},{"t":38,"v":0.69},{"t":39.5,"v":0.55},{"t":41,"v":0.65},{"t":42.5,"v":0.53},{"t":44,"v":0.67},{"t":45.5,"v":0.58},{"t":47,"v":0.68},{"t":48.5,"v":0.54},{"t":50,"v":0.63},{"t":51.5,"v":0.48},{"t":53,"v":0.69},{"t":54.5,"v":0.57},{"t":56,"v":0.66},{"t":57.5,"v":0.53},{"t":59,"v":0.67},{"t":60.5,"v":0.56},{"t":62,"v":0.68},{"t":63.5,"v":0.59},{"t":65,"v":0.64},{"t":66.5,"v":0.54},{"t":68,"v":0.69},{"t":69.5,"v":0.49},{"t":71,"v":0.65},{"t":72.5,"v":0.55},{"t":74,"v":0.69},{"t":75.5,"v":0.55},{"t":77,"v":0.66},{"t":78,"v":0.6},{"t":79,"v":0.85},{"t":80,"v":1.1},{"t":81,"v":1.24},{"t":82.5,"v":1.04},{"t":84,"v":1.18},{"t":85.5,"v":1.0},{"t":87,"v":1.22},{"t":88.5,"v":1.07},{"t":90,"v":1.23},{"t":91.5,"v":1.01},{"t":93,"v":1.16},{"t":94.5,"v":1.02},{"t":96,"v":1.27},{"t":97.5,"v":1.06},{"t":99,"v":1.19},{"t":100.5,"v":1.0},{"t":102,"v":1.2},{"t":103.5,"v":0.97},{"t":105,"v":1.23},{"t":106.5,"v":1.08},{"t":108,"v":1.17},{"t":109.5,"v":1.01},{"t":111,"v":1.24},{"t":112.5,"v":1.02},{"t":114,"v":1.18},{"t":115.5,"v":1.04},{"t":117,"v":1.22},{"t":118.5,"v":1.0},{"t":120,"v":1.22},{"t":121.5,"v":1.07},{"t":123,"v":1.23},{"t":124.5,"v":1.01},{"t":126,"v":1.16},{"t":127.5,"v":1.02},{"t":129,"v":1.24},{"t":130,"v":1.06},{"t":131,"v":1.3},{"t":132,"v":1.75},{"t":133,"v":2.0},{"t":134,"v":2.03},{"t":136,"v":1.95},{"t":138,"v":2.01},{"t":140,"v":1.93},{"t":142,"v":2.02},{"t":144,"v":1.96},{"t":146,"v":2.03},{"t":148,"v":1.94},{"t":150,"v":2.0},{"t":152,"v":1.94},{"t":154,"v":2.03},{"t":156,"v":1.96},{"t":158,"v":2.01},{"t":160,"v":1.93},{"t":162,"v":2.02},{"t":164,"v":1.95},{"t":166,"v":2.03},{"t":168,"v":1.97},{"t":170,"v":2.0},{"t":172,"v":1.94},{"t":174,"v":2.03},{"t":176,"v":1.94},{"t":178,"v":2.01},{"t":180,"v":1.95},{"t":182,"v":2.03},{"t":184,"v":1.93},{"t":186,"v":2.02},{"t":188,"v":1.96},{"t":189,"v":1.99}],
"bp_pm": [{"t":0,"v":0.56},{"t":0.5,"v":1},{"t":1,"v":1.4},{"t":2,"v":1.83},{"t":3,"v":2.08},{"t":4,"v":2.25},{"t":5,"v":2.35},{"t":7,"v":2.46},{"t":10,"v":2.59},{"t":15,"v":2.68},{"t":20,"v":2.75},{"t":25,"v":2.8},{"t":35,"v":2.84},{"t":50,"v":2.87},{"t":65,"v":2.89},{"t":75,"v":2.9},{"t":78,"v":2.91},{"t":79,"v":3.05},{"t":80,"v":3.25},{"t":82,"v":3.34},{"t":85,"v":3.37},{"t":90,"v":3.39},{"t":110,"v":3.4},{"t":130,"v":3.41},{"t":131,"v":3.55},{"t":132,"v":3.78},{"t":134,"v":3.88},{"t":136,"v":3.91},{"t":138,"v":3.87},{"t":140,"v":3.9},{"t":143,"v":3.86},{"t":146,"v":3.89},{"t":149,"v":3.85},{"t":152,"v":3.88},{"t":155,"v":3.84},{"t":158,"v":3.87},{"t":161,"v":3.84},{"t":164,"v":3.86},{"t":167,"v":3.83},{"t":170,"v":3.86},{"t":173,"v":3.83},{"t":176,"v":3.86},{"t":179,"v":3.82},{"t":182,"v":3.85},{"t":185,"v":3.82},{"t":189,"v":3.84}],
"bp_pd": [{"t":0,"v":2.31},{"t":2,"v":2.46},{"t":5,"v":2.54},{"t":10,"v":2.62},{"t":15,"v":2.67},{"t":25,"v":2.73},{"t":50,"v":2.8},{"t":75,"v":2.86},{"t":78,"v":2.87},{"t":79,"v":3.15},{"t":80,"v":3.33},{"t":82,"v":3.39},{"t":90,"v":3.42},{"t":110,"v":3.44},{"t":130,"v":3.46},{"t":131,"v":3.65},{"t":132,"v":3.79},{"t":135,"v":3.82},{"t":150,"v":3.78},{"t":170,"v":3.75},{"t":189,"v":3.72}],
"bt_fd": [{"t":0,"v":0.55},{"t":112,"v":0.55},{"t":116,"v":1.12},{"t":283,"v":1.12},{"t":287,"v":2.02},{"t":360,"v":2.02}],
"bt_fm": [{"t":0,"v":0.55},{"t":2,"v":0.63},{"t":4,"v":0.48},{"t":6,"v":0.59},{"t":8,"v":0.45},{"t":10,"v":0.61},{"t":12,"v":0.5},{"t":14,"v":0.62},{"t":16,"v":0.46},{"t":18,"v":0.57},{"t":20,"v":0.47},{"t":22,"v":0.63},{"t":24,"v":0.5},{"t":26,"v":0.59},{"t":28,"v":0.45},{"t":30,"v":0.6},{"t":32,"v":0.49},{"t":34,"v":0.62},{"t":36,"v":0.51},{"t":38,"v":0.58},{"t":40,"v":0.46},{"t":42,"v":0.63},{"t":44,"v":0.47},{"t":46,"v":0.59},{"t":48,"v":0.48},{"t":50,"v":0.63},{"t":52,"v":0.48},{"t":54,"v":0.59},{"t":56,"v":0.45},{"t":58,"v":0.61},{"t":60,"v":0.5},{"t":62,"v":0.62},{"t":64,"v":0.43},{"t":66,"v":0.57},{"t":68,"v":0.47},{"t":70,"v":0.63},{"t":72,"v":0.5},{"t":74,"v":0.59},{"t":76,"v":0.45},{"t":78,"v":0.6},{"t":80,"v":0.49},{"t":82,"v":0.62},{"t":84,"v":0.51},{"t":86,"v":0.58},{"t":88,"v":0.43},{"t":90,"v":0.63},{"t":92,"v":0.47},{"t":94,"v":0.59},{"t":96,"v":0.48},{"t":98,"v":0.63},{"t":100,"v":0.45},{"t":102,"v":0.59},{"t":104,"v":0.43},{"t":106,"v":0.61},{"t":108,"v":0.5},{"t":110,"v":0.6},{"t":112,"v":0.7},{"t":114,"v":1.0},{"t":116,"v":1.18},{"t":117,"v":1.25},{"t":119,"v":1.03},{"t":121,"v":1.19},{"t":123,"v":0.99},{"t":125,"v":1.22},{"t":127,"v":1.07},{"t":129,"v":1.24},{"t":131,"v":1.0},{"t":133,"v":1.16},{"t":135,"v":1.02},{"t":137,"v":1.25},{"t":139,"v":1.06},{"t":141,"v":1.2},{"t":143,"v":0.99},{"t":145,"v":1.21},{"t":147,"v":1.04},{"t":149,"v":1.24},{"t":151,"v":1.08},{"t":153,"v":1.17},{"t":155,"v":1.0},{"t":157,"v":1.25},{"t":159,"v":1.02},{"t":161,"v":1.19},{"t":163,"v":1.03},{"t":165,"v":1.22},{"t":167,"v":0.99},{"t":169,"v":1.19},{"t":171,"v":1.07},{"t":173,"v":1.24},{"t":175,"v":1.0},{"t":177,"v":1.25},{"t":179,"v":1.02},{"t":181,"v":1.16},{"t":183,"v":1.06},{"t":185,"v":1.25},{"t":187,"v":0.99},{"t":189,"v":1.2},{"t":191,"v":1.04},{"t":193,"v":1.21},{"t":195,"v":0.96},{"t":197,"v":1.24},{"t":199,"v":1.0},{"t":201,"v":1.17},{"t":203,"v":1.02},{"t":205,"v":1.25},{"t":207,"v":1.03},{"t":209,"v":1.19},{"t":211,"v":1.08},{"t":213,"v":1.25},{"t":215,"v":1.03},{"t":217,"v":1.19},{"t":219,"v":0.99},{"t":221,"v":1.22},{"t":223,"v":1.07},{"t":225,"v":1.24},{"t":227,"v":1.0},{"t":229,"v":1.16},{"t":231,"v":1.02},{"t":233,"v":1.25},{"t":235,"v":1.06},{"t":237,"v":1.2},{"t":239,"v":0.99},{"t":241,"v":1.21},{"t":243,"v":1.04},{"t":245,"v":1.24},{"t":247,"v":1.08},{"t":249,"v":1.17},{"t":251,"v":1.0},{"t":253,"v":1.25},{"t":255,"v":1.02},{"t":257,"v":1.19},{"t":259,"v":1.03},{"t":261,"v":1.22},{"t":263,"v":0.99},{"t":265,"v":1.19},{"t":267,"v":1.07},{"t":269,"v":1.24},{"t":271,"v":1.0},{"t":273,"v":1.25},{"t":275,"v":1.02},{"t":277,"v":1.16},{"t":279,"v":1.06},{"t":281,"v":1.25},{"t":282,"v":1.1},{"t":284,"v":1.6},{"t":286,"v":2.2},{"t":288,"v":2.18},{"t":290,"v":1.99},{"t":292,"v":2.13},{"t":294,"v":1.96},{"t":296,"v":2.16},{"t":298,"v":2.03},{"t":300,"v":2.17},{"t":302,"v":1.97},{"t":304,"v":2.1},{"t":306,"v":1.98},{"t":308,"v":2.18},{"t":310,"v":2.02},{"t":312,"v":2.14},{"t":314,"v":1.96},{"t":316,"v":2.15},{"t":318,"v":2.0},{"t":320,"v":2.17},{"t":322,"v":2.04},{"t":324,"v":2.11},{"t":326,"v":1.97},{"t":328,"v":2.18},{"t":330,"v":1.98},{"t":332,"v":2.13},{"t":334,"v":1.99},{"t":336,"v":1.96},{"t":338,"v":2.16},{"t":340,"v":2.03},{"t":342,"v":2.17},{"t":344,"v":1.97},{"t":346,"v":2.1},{"t":348,"v":1.98},{"t":350,"v":2.18},{"t":352,"v":2.02},{"t":354,"v":2.14},{"t":356,"v":1.96},{"t":358,"v":2.15},{"t":360,"v":2.05}],
"bt_pm": [{"t":0,"v":0.57},{"t":2,"v":0.64},{"t":5,"v":0.74},{"t":10,"v":0.86},{"t":18,"v":1.0},{"t":25,"v":1.11},{"t":35,"v":1.23},{"t":50,"v":1.35},{"t":65,"v":1.45},{"t":75,"v":1.52},{"t":90,"v":1.6},{"t":100,"v":1.64},{"t":112,"v":1.69},{"t":114,"v":1.75},{"t":117,"v":1.84},{"t":121,"v":1.92},{"t":125,"v":1.97},{"t":135,"v":2.05},{"t":150,"v":2.14},{"t":165,"v":2.22},{"t":175,"v":2.27},{"t":190,"v":2.35},{"t":200,"v":2.4},{"t":215,"v":2.45},{"t":225,"v":2.48},{"t":240,"v":2.52},{"t":250,"v":2.55},{"t":265,"v":2.59},{"t":282,"v":2.62},{"t":284,"v":2.68},{"t":286,"v":2.74},{"t":288,"v":2.77},{"t":290,"v":2.83},{"t":292,"v":2.76},{"t":294,"v":2.82},{"t":296,"v":2.76},{"t":298,"v":2.85},{"t":300,"v":2.8},{"t":302,"v":2.87},{"t":304,"v":2.79},{"t":306,"v":2.86},{"t":308,"v":2.81},{"t":310,"v":2.9},{"t":312,"v":2.84},{"t":314,"v":2.9},{"t":316,"v":2.83},{"t":318,"v":2.92},{"t":320,"v":2.87},{"t":322,"v":2.94},{"t":324,"v":2.89},{"t":326,"v":2.93},{"t":328,"v":2.88},{"t":330,"v":2.97},{"t":332,"v":2.9},{"t":334,"v":2.97},{"t":336,"v":2.92},{"t":338,"v":3.0},{"t":340,"v":2.93},{"t":342,"v":3.0},{"t":344,"v":2.94},{"t":346,"v":3.02},{"t":348,"v":2.98},{"t":350,"v":3.04},{"t":352,"v":2.97},{"t":354,"v":3.03},{"t":356,"v":2.99},{"t":358,"v":3.08},{"t":360,"v":3.04}],
"bt_pd": [{"t":4,"v":0.49},{"t":10,"v":0.68},{"t":18,"v":0.82},{"t":25,"v":0.92},{"t":35,"v":1.04},{"t":50,"v":1.17},{"t":75,"v":1.36},{"t":100,"v":1.55},{"t":113,"v":1.64},{"t":117,"v":1.72},{"t":125,"v":1.8},{"t":150,"v":1.98},{"t":175,"v":2.12},{"t":200,"v":2.24},{"t":225,"v":2.36},{"t":250,"v":2.46},{"t":270,"v":2.53},{"t":283,"v":2.58},{"t":300,"v":2.73},{"t":315,"v":2.84},{"t":330,"v":2.95},{"t":345,"v":3.06},{"t":360,"v":3.18}],
"cp_fd": [{"t":0,"v":0.5},{"t":148,"v":0.5},{"t":152,"v":0.73},{"t":299,"v":0.73},{"t":303,"v":1.1},{"t":400,"v":1.1}],
"cp_fm": [{"t":0,"v":0.69},{"t":2.5,"v":0.49},{"t":5,"v":0.63},{"t":7.5,"v":0.45},{"t":10,"v":0.67},{"t":12.5,"v":0.52},{"t":15,"v":0.68},{"t":17.5,"v":0.46},{"t":20,"v":0.61},{"t":22.5,"v":0.47},{"t":25,"v":0.69},{"t":27.5,"v":0.51},{"t":30,"v":0.59},{"t":32.5,"v":0.4},{"t":35,"v":0.6},{"t":37.5,"v":0.45},{"t":40,"v":0.63},{"t":42.5,"v":0.48},{"t":45,"v":0.57},{"t":47.5,"v":0.41},{"t":50,"v":0.64},{"t":52.5,"v":0.42},{"t":55,"v":0.58},{"t":57.5,"v":0.44},{"t":60,"v":0.64},{"t":62.5,"v":0.44},{"t":65,"v":0.58},{"t":67.5,"v":0.4},{"t":70,"v":0.62},{"t":72.5,"v":0.47},{"t":75,"v":0.63},{"t":77.5,"v":0.41},{"t":80,"v":0.56},{"t":82.5,"v":0.42},{"t":85,"v":0.64},{"t":87.5,"v":0.46},{"t":90,"v":0.59},{"t":92.5,"v":0.4},{"t":95,"v":0.6},{"t":97.5,"v":0.45},{"t":100,"v":0.63},{"t":102.5,"v":0.48},{"t":105,"v":0.57},{"t":107.5,"v":0.38},{"t":110,"v":0.64},{"t":112.5,"v":0.42},{"t":115,"v":0.58},{"t":117.5,"v":0.44},{"t":120,"v":0.64},{"t":122.5,"v":0.44},{"t":125,"v":0.58},{"t":127.5,"v":0.4},{"t":130,"v":0.62},{"t":132.5,"v":0.47},{"t":135,"v":0.63},{"t":137.5,"v":0.38},{"t":140,"v":0.56},{"t":142.5,"v":0.42},{"t":145,"v":0.6},{"t":147.5,"v":0.46},{"t":149,"v":0.6},{"t":151,"v":0.8},{"t":152.5,"v":0.86},{"t":155,"v":0.64},{"t":157.5,"v":0.8},{"t":160,"v":0.6},{"t":162.5,"v":0.83},{"t":165,"v":0.68},{"t":167.5,"v":0.85},{"t":170,"v":0.61},{"t":172.5,"v":0.77},{"t":175,"v":0.63},{"t":177.5,"v":0.86},{"t":180,"v":0.67},{"t":182.5,"v":0.81},{"t":185,"v":0.6},{"t":187.5,"v":0.82},{"t":190,"v":0.65},{"t":192.5,"v":0.85},{"t":195,"v":0.69},{"t":197.5,"v":0.78},{"t":200,"v":0.61},{"t":202.5,"v":0.86},{"t":205,"v":0.63},{"t":207.5,"v":0.8},{"t":210,"v":0.64},{"t":212.5,"v":0.83},{"t":215,"v":0.6},{"t":217.5,"v":0.8},{"t":220,"v":0.68},{"t":222.5,"v":0.85},{"t":225,"v":0.61},{"t":227.5,"v":0.86},{"t":230,"v":0.63},{"t":232.5,"v":0.77},{"t":235,"v":0.67},{"t":237.5,"v":0.86},{"t":240,"v":0.6},{"t":242.5,"v":0.81},{"t":245,"v":0.65},{"t":247.5,"v":0.82},{"t":250,"v":0.69},{"t":252.5,"v":0.85},{"t":255,"v":0.61},{"t":257.5,"v":0.78},{"t":260,"v":0.63},{"t":262.5,"v":0.86},{"t":265,"v":0.64},{"t":267.5,"v":0.8},{"t":270,"v":0.58},{"t":272.5,"v":0.86},{"t":275,"v":0.64},{"t":277.5,"v":0.8},{"t":280,"v":0.6},{"t":282.5,"v":0.83},{"t":285,"v":0.68},{"t":287.5,"v":0.85},{"t":290,"v":0.61},{"t":292.5,"v":0.77},{"t":295,"v":0.63},{"t":297.5,"v":0.84},{"t":300,"v":0.9},{"t":302,"v":1.2},{"t":304,"v":1.31},{"t":306.5,"v":1.02},{"t":309,"v":1.23},{"t":311.5,"v":0.97},{"t":314,"v":1.28},{"t":316.5,"v":1.07},{"t":319,"v":1.29},{"t":321.5,"v":0.99},{"t":324,"v":1.19},{"t":326.5,"v":1.0},{"t":329,"v":1.31},{"t":331.5,"v":1.06},{"t":334,"v":1.24},{"t":336.5,"v":0.97},{"t":339,"v":1.26},{"t":341.5,"v":1.04},{"t":344,"v":1.29},{"t":346.5,"v":1.09},{"t":349,"v":1.21},{"t":351.5,"v":0.99},{"t":354,"v":1.31},{"t":356.5,"v":1.0},{"t":359,"v":1.23},{"t":361.5,"v":1.02},{"t":364,"v":0.97},{"t":366.5,"v":1.28},{"t":369,"v":1.07},{"t":371.5,"v":1.29},{"t":374,"v":0.99},{"t":376.5,"v":1.19},{"t":379,"v":1.0},{"t":381.5,"v":1.31},{"t":384,"v":1.06},{"t":386.5,"v":1.24},{"t":389,"v":0.97},{"t":391.5,"v":1.26},{"t":394,"v":1.04},{"t":396.5,"v":1.29},{"t":399,"v":1.09},{"t":400,"v":1.2}],
"cp_pm": [{"t":0,"v":0.25},{"t":10,"v":0.3},{"t":15,"v":0.36},{"t":20,"v":0.47},{"t":25,"v":0.72},{"t":30,"v":1.07},{"t":35,"v":1.46},{"t":40,"v":1.78},{"t":45,"v":2.0},{"t":50,"v":2.17},{"t":60,"v":2.38},{"t":75,"v":2.52},{"t":90,"v":2.62},{"t":100,"v":2.67},{"t":125,"v":2.72},{"t":148,"v":2.75},{"t":150,"v":2.86},{"t":153,"v":2.97},{"t":158,"v":3.03},{"t":175,"v":3.1},{"t":200,"v":3.15},{"t":250,"v":3.18},{"t":298,"v":3.19},{"t":300,"v":3.25},{"t":303,"v":3.45},{"t":307,"v":3.55},{"t":315,"v":3.61},{"t":330,"v":3.65},{"t":350,"v":3.68},{"t":375,"v":3.69},{"t":400,"v":3.68}],
"cp_pd": [{"t":0,"v":1.96},{"t":3,"v":2.21},{"t":6,"v":2.3},{"t":10,"v":2.37},{"t":25,"v":2.44},{"t":50,"v":2.51},{"t":100,"v":2.6},{"t":148,"v":2.68},{"t":150,"v":3.0},{"t":153,"v":3.08},{"t":160,"v":3.13},{"t":200,"v":3.19},{"t":250,"v":3.23},{"t":298,"v":3.26},{"t":300,"v":3.52},{"t":305,"v":3.58},{"t":320,"v":3.59},{"t":400,"v":3.59}],
"ct_fd": [{"t":0,"v":0.7},{"t":124,"v":0.7},{"t":128,"v":1.12},{"t":216,"v":1.12},{"t":220,"v":2.0},{"t":275,"v":2.0}],
"ct_fm": [{"t":0,"v":0.68},{"t":2,"v":0.82},{"t":4,"v":0.62},{"t":6,"v":0.76},{"t":8,"v":0.58},{"t":10,"v":0.8},{"t":12,"v":0.65},{"t":14,"v":0.81},{"t":16,"v":0.59},{"t":18,"v":0.74},{"t":20,"v":0.6},{"t":22,"v":0.82},{"t":24,"v":0.64},{"t":26,"v":0.77},{"t":28,"v":0.58},{"t":30,"v":0.78},{"t":32,"v":0.63},{"t":34,"v":0.81},{"t":36,"v":0.66},{"t":38,"v":0.75},{"t":40,"v":0.59},{"t":42,"v":0.82},{"t":44,"v":0.6},{"t":46,"v":0.76},{"t":48,"v":0.62},{"t":50,"v":0.58},{"t":52,"v":0.8},{"t":54,"v":0.65},{"t":56,"v":0.81},{"t":58,"v":0.59},{"t":60,"v":0.74},{"t":62,"v":0.6},{"t":64,"v":0.84},{"t":66,"v":0.64},{"t":68,"v":0.77},{"t":70,"v":0.58},{"t":72,"v":0.78},{"t":74,"v":0.63},{"t":76,"v":0.81},{"t":78,"v":0.66},{"t":80,"v":0.75},{"t":82,"v":0.59},{"t":84,"v":0.82},{"t":86,"v":0.6},{"t":88,"v":0.76},{"t":90,"v":0.62},{"t":92,"v":0.82},{"t":94,"v":0.62},{"t":96,"v":0.76},{"t":98,"v":0.58},{"t":100,"v":0.8},{"t":102,"v":0.65},{"t":104,"v":0.81},{"t":106,"v":0.59},{"t":108,"v":0.74},{"t":110,"v":0.55},{"t":112,"v":0.82},{"t":114,"v":0.64},{"t":116,"v":0.77},{"t":118,"v":0.58},{"t":120,"v":0.78},{"t":122,"v":0.66},{"t":124,"v":0.85},{"t":126,"v":1.05},{"t":128,"v":1.32},{"t":130,"v":1.25},{"t":132,"v":1.0},{"t":134,"v":1.18},{"t":136,"v":0.95},{"t":138,"v":1.22},{"t":140,"v":1.04},{"t":142,"v":1.24},{"t":144,"v":0.97},{"t":146,"v":1.15},{"t":148,"v":0.98},{"t":150,"v":1.25},{"t":152,"v":1.03},{"t":154,"v":1.19},{"t":156,"v":0.95},{"t":158,"v":1.21},{"t":160,"v":1.01},{"t":162,"v":1.24},{"t":164,"v":1.06},{"t":166,"v":1.16},{"t":168,"v":0.92},{"t":170,"v":1.25},{"t":172,"v":0.98},{"t":174,"v":1.18},{"t":176,"v":1.0},{"t":178,"v":0.95},{"t":180,"v":1.22},{"t":182,"v":1.04},{"t":184,"v":1.24},{"t":186,"v":0.97},{"t":188,"v":1.15},{"t":190,"v":0.92},{"t":192,"v":1.25},{"t":194,"v":1.03},{"t":196,"v":1.19},{"t":198,"v":0.95},{"t":200,"v":1.21},{"t":202,"v":1.01},{"t":204,"v":1.24},{"t":206,"v":1.06},{"t":208,"v":1.16},{"t":210,"v":0.97},{"t":212,"v":1.25},{"t":214,"v":0.98},{"t":215,"v":1.12},{"t":217,"v":1.5},{"t":219,"v":2.03},{"t":221,"v":2.04},{"t":223,"v":1.96},{"t":225,"v":2.02},{"t":227,"v":1.94},{"t":229,"v":2.03},{"t":231,"v":1.97},{"t":233,"v":2.04},{"t":235,"v":1.95},{"t":237,"v":2.01},{"t":239,"v":1.95},{"t":241,"v":2.04},{"t":243,"v":1.97},{"t":245,"v":2.02},{"t":247,"v":1.94},{"t":249,"v":2.03},{"t":251,"v":1.96},{"t":253,"v":2.04},{"t":255,"v":1.98},{"t":257,"v":2.01},{"t":259,"v":1.95},{"t":261,"v":2.04},{"t":263,"v":1.95},{"t":265,"v":2.02},{"t":267,"v":1.96},{"t":269,"v":2.04},{"t":271,"v":1.94},{"t":273,"v":2.03},{"t":275,"v":1.97}],
"ct_pm": [{"t":0,"v":0.19},{"t":3,"v":0.44},{"t":6,"v":0.69},{"t":10,"v":1.0},{"t":15,"v":1.18},{"t":20,"v":1.32},{"t":25,"v":1.43},{"t":35,"v":1.57},{"t":50,"v":1.73},{"t":65,"v":1.83},{"t":75,"v":1.89},{"t":90,"v":1.97},{"t":100,"v":2.02},{"t":115,"v":2.06},{"t":124,"v":2.09},{"t":126,"v":2.15},{"t":128,"v":2.21},{"t":135,"v":2.3},{"t":150,"v":2.37},{"t":175,"v":2.46},{"t":200,"v":2.54},{"t":215,"v":2.58},{"t":217,"v":2.64},{"t":219,"v":2.7},{"t":225,"v":2.8},{"t":230,"v":2.86},{"t":235,"v":2.87},{"t":240,"v":2.93},{"t":245,"v":2.92},{"t":250,"v":2.97},{"t":255,"v":2.96},{"t":260,"v":3.01},{"t":265,"v":3.0},{"t":270,"v":3.04},{"t":275,"v":3.02}],
"ct_pd": [{"t":0,"v":0.83},{"t":5,"v":0.97},{"t":10,"v":1.1},{"t":25,"v":1.32},{"t":50,"v":1.66},{"t":75,"v":1.85},{"t":100,"v":2.02},{"t":124,"v":2.15},{"t":128,"v":2.28},{"t":140,"v":2.37},{"t":150,"v":2.42},{"t":175,"v":2.49},{"t":200,"v":2.56},{"t":215,"v":2.61},{"t":218,"v":2.67},{"t":225,"v":2.75},{"t":250,"v":2.84},{"t":275,"v":2.93}]
}
}
